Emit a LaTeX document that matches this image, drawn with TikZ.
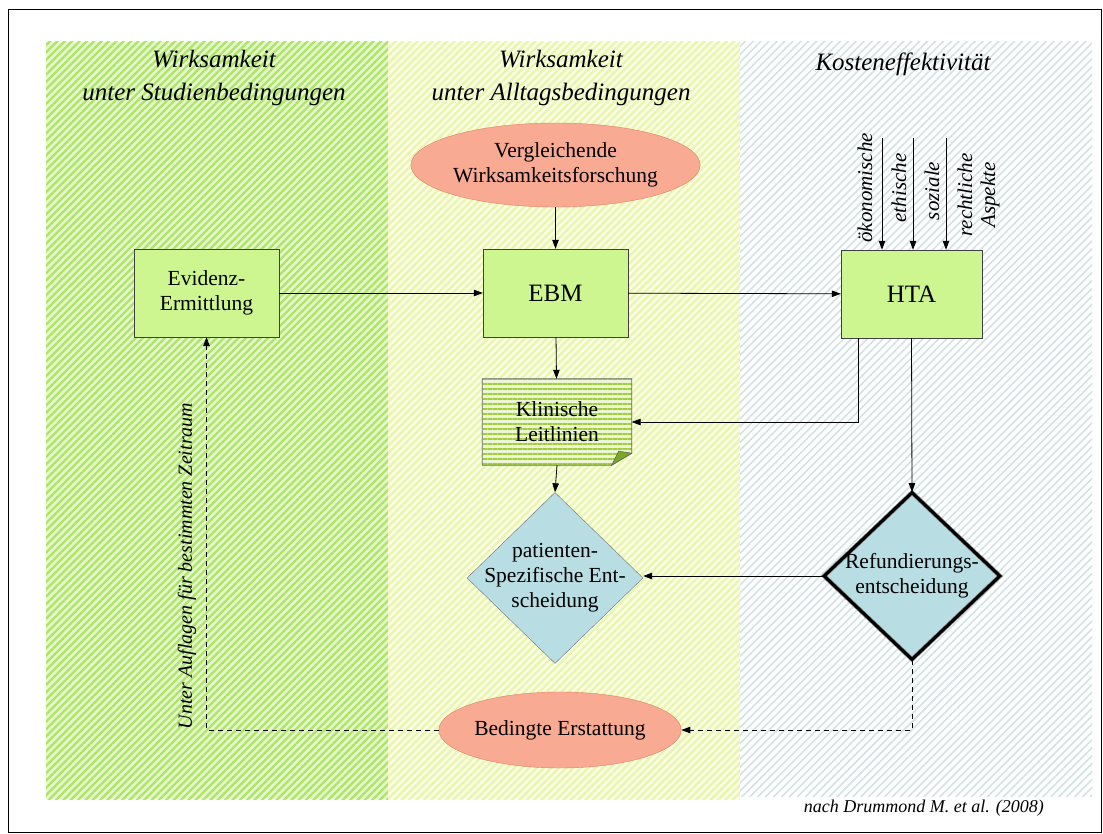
\documentclass[tikz,border=0pt]{standalone}
\usepackage{fontspec}
\setmainfont{Liberation Serif}
\usetikzlibrary{shapes.geometric,arrows.meta,patterns.meta}
\pgfdeclarelayer{bands}
\pgfdeclarelayer{background}
\pgfsetlayers{bands,background,main}

\definecolor{boxgreen}{RGB}{206,246,144}
\definecolor{salmon}{RGB}{249,170,146}
\definecolor{salmonline}{RGB}{226,128,96}
\definecolor{decblue}{RGB}{184,222,228}
\definecolor{bandAbase}{RGB}{230,248,200}
\definecolor{bandAline}{RGB}{172,228,108}
\definecolor{bandBbase}{RGB}{251,253,228}
\definecolor{bandBline}{RGB}{232,246,176}
\definecolor{bandCline}{RGB}{212,226,229}
\definecolor{leitbase}{RGB}{236,246,212}
\definecolor{leitline}{RGB}{160,206,62}
\definecolor{leitfold}{RGB}{122,170,34}

\tikzset{
  txt/.style={font=\fontsize{21.5}{25}\selectfont},
  head/.style={font=\fontsize{25}{33}\selectfont\itshape, align=center},
  procbox/.style={draw=black!75, fill=boxgreen, minimum width=145pt, minimum height=88pt, inner sep=0pt, align=center, txt},
  oval/.style={ellipse, draw=salmonline, fill=salmon, inner sep=0pt, align=center, txt},
  decision/.style={diamond, fill=decblue, inner sep=0pt},
  dectext/.style={align=center, inner sep=0pt, txt},
  arr/.style={draw=black, line width=0.8pt, -{Triangle[length=9pt,width=6.5pt]}},
  dasharr/.style={arr, dash pattern=on 5pt off 4pt},
  aspect/.style={rotate=90, font=\fontsize{21}{24}\selectfont\itshape, inner sep=0pt}
}

\begin{document}
\begin{tikzpicture}[x=1pt,y=-1pt]
  \useasboundingbox (0,0) rectangle (1103,834);

  \begin{pgfonlayer}{bands}
    % page frame
    \draw[black, line width=1pt, fill=white] (8,10) rectangle (1101,832);
    % three hatched bands
    \fill[bandAbase] (46,42) rectangle (388,799);
    \fill[pattern={Lines[angle=45,distance=5.2pt,line width=2.3pt]}, pattern color=bandAline] (46,42) rectangle (388,799);
    \fill[bandBbase] (388,42) rectangle (740,799);
    \fill[pattern={Lines[angle=45,distance=5.2pt,line width=2.4pt]}, pattern color=bandBline] (388,42) rectangle (740,799);
    \fill[pattern={Lines[angle=45,distance=5.6pt,line width=1.6pt]}, pattern color=bandCline] (740,42) rectangle (1092,796);
  \end{pgfonlayer}

  % column headings
  \node[head] (hA) at (214,78) {Wirksamkeit\\unter Studienbedingungen};
  \node[head] (hB) at (561,78) {Wirksamkeit\\unter Alltagsbedingungen};
  \node[head] (hC) at (903,64) {Kosteneffektivit\"at};

  % nodes
  \node[oval, minimum width=235pt, minimum height=84pt] (vgl) at (555.5,165) {Vergleichende\\Wirksamkeitsforschung};
  \node[procbox] (evid) at (206.5,293) {Evidenz-\\Ermittlung};
  \node[procbox, font=\fontsize{25}{28}\selectfont] (ebm) at (555.5,293) {EBM};
  \node[procbox, minimum width=141pt, font=\fontsize{25}{28}\selectfont] (hta) at (911.5,294) {HTA};
  \node[minimum width=149pt, minimum height=86pt, inner sep=0pt, align=center, txt] (leit) at (557,422) {Klinische\\Leitlinien};
  \node[decision, draw=black!55, minimum width=176pt, minimum height=171pt] (pat) at (555,578) {};
  \node[dectext] (patT) at (pat.center) {patienten-\\Spezifische Ent-\\scheidung};
  \node[decision, draw=black!50, line width=0.7pt, double=black, double distance=3pt, minimum width=176pt, minimum height=167pt] (ref) at (912,576) {};
  \node[dectext] (refT) at (ref.center) {Refundierungs-\\entscheidung};
  \node[oval, minimum width=234pt, minimum height=76pt] (bed) at (560,730) {Bedingte Erstattung};

  % guideline document with folded corner
  \begin{pgfonlayer}{background}
    \path[fill=leitbase] (leit.north west) -- (leit.north east) -- ([yshift=12pt]leit.south east) -- ([xshift=-20pt]leit.south east) -- (leit.south west) -- cycle;
    \path[pattern={Lines[angle=0,distance=5pt,line width=2.6pt]}, pattern color=leitline] (leit.north west) -- (leit.north east) -- ([yshift=12pt]leit.south east) -- ([xshift=-20pt]leit.south east) -- (leit.south west) -- cycle;
    \draw[black!60, line width=0.8pt] (leit.north west) -- (leit.north east) -- ([yshift=12pt]leit.south east) -- ([xshift=-20pt]leit.south east) -- (leit.south west) -- cycle;
    \draw[black!60, fill=leitfold, line width=0.6pt] ([xshift=-20pt]leit.south east) -- ([yshift=12pt]leit.south east) -- ([xshift=-13pt,yshift=14pt]leit.south east) -- cycle;
  \end{pgfonlayer}

  % aspects feeding into HTA
  \coordinate (a1) at (882,138);
  \coordinate (a2) at (913,138);
  \coordinate (a3) at (946,138);
  \node[aspect] (l1) at (865,188) {\"okonomische};
  \node[aspect] (l2) at (899,188) {ethische};
  \node[aspect] (l3) at (932,191) {soziale};
  \node[aspect] (l4) at (965,195) {rechtliche};
  \node[aspect] (l5) at (990,195) {Aspekte};
  \draw[arr] (a1) -- (a1 |- hta.north);
  \draw[arr] (a2) -- (a2 |- hta.north);
  \draw[arr] (a3) -- (a3 |- hta.north);

  % connectors
  \draw[arr] (vgl) -- (ebm);
  \draw[arr] (evid) -- (ebm);
  \draw[arr] (ebm) -- (hta);
  \draw[arr] (ebm) -- (leit);
  \draw[arr] ([xshift=-53.5pt]hta.south) |- (leit.east);
  \draw[arr] (hta.south) -- (ref.north);
  \draw[arr] (leit.south) -- (pat.north);
  \draw[arr] (ref.west) -- (pat.east |- ref.west);
  \draw[dasharr] (ref.south) |- (bed.east);
  \draw[dasharr] (bed.west) -| (evid.south);

  % side note and source
  \node[rotate=90, font=\fontsize{20}{24}\selectfont\itshape, inner sep=0pt] (cond) at (187,566) {Unter Auflagen f\"ur bestimmten Zeitraum};
  \node[anchor=east, font=\fontsize{18}{22}\selectfont\itshape, inner sep=0pt] (src) at (1044,808) {nach Drummond M. et al. (2008)};
\end{tikzpicture}
\end{document}
